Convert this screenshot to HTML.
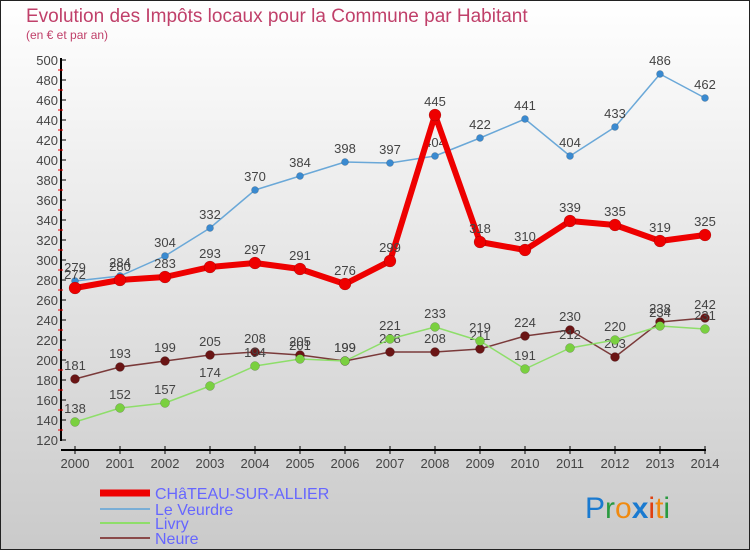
<!DOCTYPE html>
<html><head><meta charset="utf-8"><style>
body{margin:0}
#c{width:750px;height:550px;position:relative;font-family:"Liberation Sans",sans-serif}
</style></head><body>
<div id="c">
<svg id="s" width="750" height="550" xmlns="http://www.w3.org/2000/svg">
<defs><linearGradient id="bg" x1="0" y1="0" x2="0" y2="1"><stop offset="0" stop-color="#ffffff"/><stop offset="1" stop-color="#cacaca"/></linearGradient></defs>
<rect x="0.5" y="0.5" width="749" height="549" fill="url(#bg)" stroke="#222"/>
<text x="26" y="22" font-size="19" fill="#c0406a">Evolution des Impôts locaux pour la Commune par Habitant</text>
<text x="26" y="39" font-size="12" fill="#c0406a">(en € et par an)</text>
<g id="axes"></g><g id="series"></g>
<g>
<line x1="100" y1="493" x2="150" y2="493" stroke="#e00" stroke-width="7"/>
<text x="155" y="499" font-size="16" fill="#6666ff">CHâTEAU-SUR-ALLIER</text>
<line x1="100" y1="509" x2="150" y2="509" stroke="#7aaed6" stroke-width="2"/>
<text x="155" y="515" font-size="16" fill="#6666ff">Le Veurdre</text>
<line x1="100" y1="523" x2="150" y2="523" stroke="#8ede6a" stroke-width="2"/>
<text x="155" y="529" font-size="16" fill="#6666ff">Livry</text>
<line x1="100" y1="538" x2="150" y2="538" stroke="#8a4a4a" stroke-width="2"/>
<text x="155" y="544" font-size="16" fill="#6666ff">Neure</text>
</g>
<g font-size="30">
<text x="585" y="518"><tspan fill="#1a7ad0">P</tspan><tspan fill="#2a9a40">r</tspan><tspan fill="#f08a10">o</tspan><tspan fill="#1a7ad0" font-weight="bold">x</tspan><tspan fill="#e04010">i</tspan><tspan fill="#f08a10">t</tspan><tspan fill="#2a9a40">i</tspan></text>
</g>
</svg>
</div>
<script>
const years=[2000,2001,2002,2003,2004,2005,2006,2007,2008,2009,2010,2011,2012,2013,2014];
const chateau=[272,280,283,293,297,291,276,299,445,318,310,339,335,319,325];
const veurdre=[279,284,304,332,370,384,398,397,404,422,441,404,433,486,462];
const livry=[138,152,157,174,194,201,199,221,233,219,191,212,220,234,231];
const neure=[181,193,199,205,208,205,199,208,208,211,224,230,203,238,242];
const yTicks=[120,140,160,180,200,220,240,260,280,300,320,340,360,380,400,420,440,460,480,500];
const NS="http://www.w3.org/2000/svg";
const x=i=>75+i*(630/(years.length-1));
const y=v=>440-(v-120)*(380/380);
function mk(tag,attrs,parent){const e=document.createElementNS(NS,tag);for(const k in attrs)e.setAttribute(k,attrs[k]);parent.appendChild(e);return e;}
const ax=document.getElementById('axes');
let l=mk('line',{x1:61,y1:58,x2:61,y2:441,stroke:'#000','stroke-width':2},ax);


l=mk('line',{x1:61,y1:450,x2:706,y2:450,stroke:'#000','stroke-width':2},ax);


yTicks.forEach(v=>{
 mk('line',{x1:61,y1:y(v),x2:66,y2:y(v),stroke:'#000'},ax);
 if(v<500)mk('line',{x1:58,y1:y(v)-10,x2:63,y2:y(v)-10,stroke:'#e00'},ax);
 const t=mk('text',{x:58,y:y(v)+5,'text-anchor':'end','font-size':13,fill:'#444'},ax);t.textContent=v;
 
 
});
years.forEach((yr,i)=>{
 mk('line',{x1:x(i),y1:446,x2:x(i),y2:454,stroke:'#000'},ax);
 const t=mk('text',{x:x(i),y:468,'text-anchor':'middle','font-size':13,fill:'#444'},ax);t.textContent=yr;
 
 
});
const sg=document.getElementById('series');
function series(data,color,dot,w,r,name){
 const g=mk('g',{},sg);
 
 
 const pts=data.map((v,i)=>x(i)+','+y(v)).join(' ');
 mk('polyline',{points:pts,fill:'none',stroke:color,'stroke-width':w,'stroke-linejoin':'round'},g);
 data.forEach((v,i)=>{
  const c=mk('circle',{cx:x(i),cy:y(v),r:r,fill:dot,stroke:'rgba(0,0,0,0.3)','stroke-width':0.5},g);
  
  
  const t=mk('text',{x:x(i),y:y(v)-9,'text-anchor':'middle','font-size':13,fill:'#444'},g);t.textContent=v;
  
  
 });
}
series(neure,'#7a3a3a','#6a1515',1.5,4.5,'series-neure');
series(livry,'#8ede6a','#7ad040',1.5,4.5,'series-livry');
series(veurdre,'#6aa8d8','#3a8ad0',1.5,3.5,'series-veurdre');
series(chateau,'#e00','#e00',6,6,'series-chateau');
</script>
</body></html>
